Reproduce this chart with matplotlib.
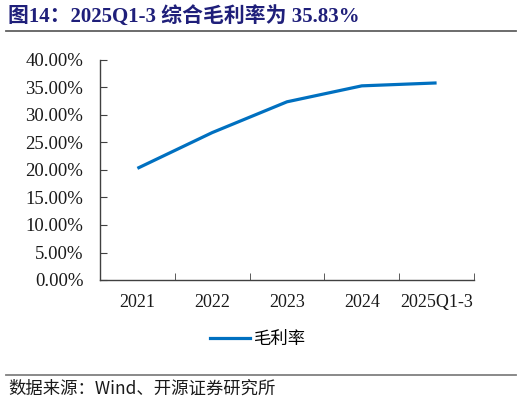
import matplotlib
matplotlib.use("Agg")
import matplotlib.pyplot as plt
from matplotlib.lines import Line2D
from matplotlib.ticker import FuncFormatter

# chart data
categories = ["2021", "2022", "2023", "2024", "2025Q1-3"]
grossMargin = [20.3, 26.8, 32.4, 35.3, 35.83]
seriesName = "毛利率"
titleText = "图14：2025Q1-3 综合毛利率为 35.83%"
sourceText = "数据来源：Wind、开源证券研究所"

serifFonts = ["Liberation Serif", "Noto Sans CJK SC"]
cjkFonts = ["Noto Sans CJK SC", "Liberation Serif"]
lineColor = "#0070C0"
axisColor = "#404040"

W, H = 522, 404
figure = plt.figure(figsize=(W / 100, H / 100), dpi=100)

ax = figure.add_axes([100 / W, 1 - 280 / H, 374 / W, 220 / H])
x = list(range(len(categories)))
ax.plot(x, grossMargin, color=lineColor, linewidth=2.3, solid_capstyle="butt")

ax.set_xlim(-0.5, len(categories) - 0.5)
ax.set_ylim(0, 40)
ax.set_yticks([i * 5 for i in range(9)])
ax.yaxis.set_major_formatter(FuncFormatter(lambda v, p: "%.2f%%" % v))
ax.set_xticks(x)
ax.set_xticklabels(categories)
ax.set_xticks([i + 0.5 for i in range(len(categories))], minor=True)

for side in ("top", "right"):
    ax.spines[side].set_visible(False)
for side in ("left", "bottom"):
    ax.spines[side].set_color(axisColor)
    ax.spines[side].set_linewidth(1.0)

ax.tick_params(axis="y", direction="in", length=5, color=axisColor,
               labelsize=13.5, pad=12)
ax.tick_params(axis="x", which="major", length=0, labelsize=13, pad=10)
ax.tick_params(axis="x", which="minor", direction="in", length=5,
               color=axisColor)
for lbl in ax.get_xticklabels() + ax.get_yticklabels():
    lbl.set_fontfamily(serifFonts)
    lbl.set_color("#1a1a1a")

# legend below the axes
handle = Line2D([0], [0], color=lineColor, linewidth=2.3)
leg = figure.legend([handle], [seriesName], loc="center",
                    bbox_to_anchor=(258 / W, 1 - 339 / H), frameon=False,
                    handlelength=2.3, handletextpad=0.25,
                    prop={"family": cjkFonts, "size": 12.5})

# title and source lines
figure.text(8 / W, 1 - 16 / H, titleText, color="#1F1F7A", fontsize=15,
            fontweight="bold", family=serifFonts, va="center", ha="left")
figure.add_artist(Line2D([6 / W, 516 / W], [1 - 31 / H, 1 - 31 / H],
                         color="#606060", linewidth=1.3))
figure.add_artist(Line2D([6 / W, 516 / W], [1 - 375 / H, 1 - 375 / H],
                         color="#808080", linewidth=1.3))
figure.text(8 / W, 1 - 389 / H, sourceText, color="#1a1a1a", fontsize=12.5,
            family=cjkFonts, va="center", ha="left")

figure.savefig("out.png", dpi=100)
plt.close(figure)
